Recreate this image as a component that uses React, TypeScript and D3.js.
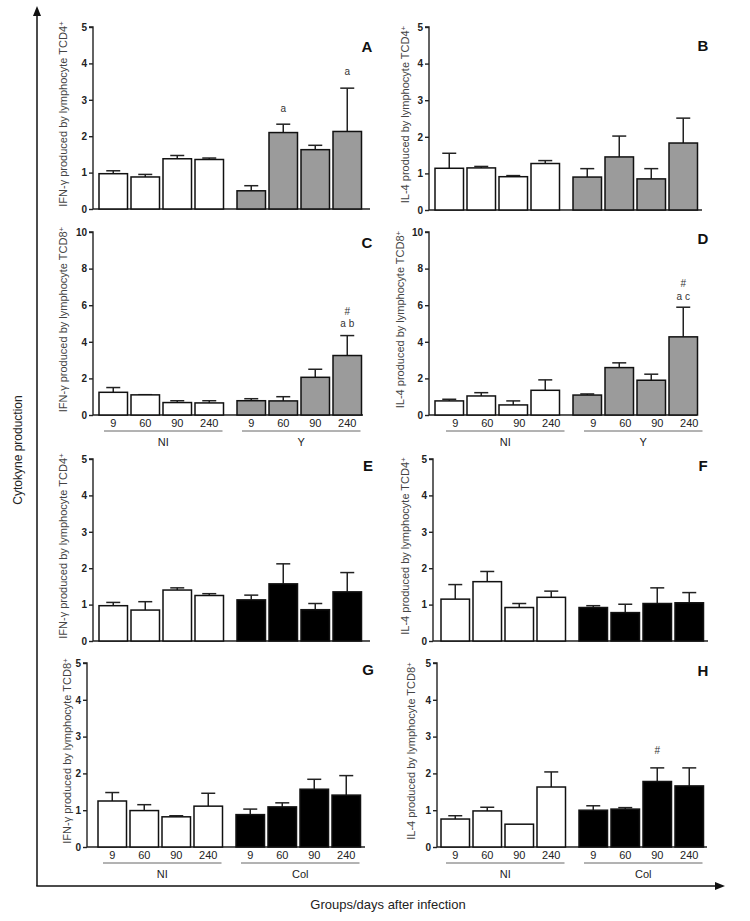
import React, { useEffect, useRef } from "react";
import * as d3 from "d3";

// ---------- data ----------
const days = ["9", "60", "90", "240"];

const aMean = [0.97, 0.88, 1.38, 1.36, 0.5, 2.1, 1.63, 2.13];
const aErr = [1.05, 0.95, 1.47, 1.4, 0.64, 2.33, 1.75, 3.32];
const bMean = [1.14, 1.15, 0.91, 1.27, 0.9, 1.45, 0.85, 1.83];
const bErr = [1.55, 1.19, 0.94, 1.35, 1.13, 2.02, 1.13, 2.51];
const cMean = [1.24, 1.1, 0.68, 0.66, 0.78, 0.77, 2.06, 3.25];
const cErr = [1.5, 1.11, 0.78, 0.78, 0.89, 1.0, 2.5, 4.34];
const dMean = [0.77, 1.04, 0.55, 1.35, 1.09, 2.59, 1.9, 4.27];
const dErr = [0.86, 1.22, 0.77, 1.92, 1.15, 2.85, 2.23, 5.89];
const eMean = [0.97, 0.85, 1.4, 1.25, 1.13, 1.57, 0.86, 1.35];
const eErr = [1.06, 1.08, 1.46, 1.3, 1.26, 2.12, 1.03, 1.88];
const fMean = [1.15, 1.63, 0.92, 1.2, 0.92, 0.78, 1.03, 1.05];
const fErr = [1.55, 1.91, 1.03, 1.37, 0.97, 1.01, 1.46, 1.33];
const gMean = [1.25, 0.99, 0.82, 1.11, 0.88, 1.09, 1.57, 1.41];
const gErr = [1.48, 1.15, 0.85, 1.46, 1.03, 1.2, 1.84, 1.94];
const hMean = [0.76, 0.98, 0.62, 1.63, 1.0, 1.03, 1.78, 1.66];
const hErr = [0.85, 1.08, 0.62, 2.04, 1.12, 1.07, 2.15, 2.15];

const yTicks5 = [0, 1, 2, 3, 4, 5];
const yTicks10 = [0, 2, 4, 6, 8, 10];

const titleIfnCD4 = "IFN-γ produced by lymphocyte TCD4";
const titleIl4CD4 = "IL-4 produced by lymphocyte TCD4";
const titleIfnCD8 = "IFN-γ produced by lymphocyte TCD8";
const titleIl4CD8 = "IL-4 produced by lymphocyte TCD8";

// annotations: [bar index, value level, text]
const aNotes: [number, number, string][] = [[5, 2.76, "a"], [7, 3.77, "a"]];
const cNotes: [number, number, string][] = [[7, 5.66, "#"], [7, 4.98, "a b"]];
const dNotes: [number, number, string][] = [[7, 7.17, "#"], [7, 6.48, "a c"]];
const hNotes: [number, number, string][] = [[6, 2.62, "#"]];

const GRAY = "#9b9b9b";

type Panel = {
  label: string;
  title: string;
  mean: number[];
  err: number[];
  max: number;
  ticks: number[];
  fill2: string;
  group2: string;
  notes: [number, number, string][];
  showDays: boolean;
  // layout
  ax: number; yTop: number; yBot: number; xEnd: number; barStart: number;
  titleX: number; labelX: number; labelY: number; dayShift: number;
};

const panels: Panel[] = [
  { label: "A", title: titleIfnCD4, mean: aMean, err: aErr, max: 5, ticks: yTicks5, fill2: GRAY, group2: "Y", notes: aNotes, showDays: false,
    ax: 93, yTop: 27, yBot: 209, xEnd: 370, barStart: 99, titleX: 63, labelX: 367, labelY: 47, dayShift: 0 },
  { label: "B", title: titleIl4CD4, mean: bMean, err: bErr, max: 5, ticks: yTicks5, fill2: GRAY, group2: "Y", notes: [], showDays: false,
    ax: 429, yTop: 27, yBot: 210, xEnd: 702, barStart: 435, titleX: 405, labelX: 703, labelY: 46, dayShift: 0 },
  { label: "C", title: titleIfnCD8, mean: cMean, err: cErr, max: 10, ticks: yTicks10, fill2: GRAY, group2: "Y", notes: cNotes, showDays: true,
    ax: 93, yTop: 232, yBot: 415, xEnd: 363, barStart: 99, titleX: 63, labelX: 367, labelY: 243, dayShift: 0 },
  { label: "D", title: titleIl4CD8, mean: dMean, err: dErr, max: 10, ticks: yTicks10, fill2: GRAY, group2: "Y", notes: dNotes, showDays: true,
    ax: 429, yTop: 232, yBot: 415, xEnd: 697, barStart: 435, titleX: 400, labelX: 703, labelY: 239, dayShift: 6 },
  { label: "E", title: titleIfnCD4, mean: eMean, err: eErr, max: 5, ticks: yTicks5, fill2: "#000", group2: "Col", notes: [], showDays: false,
    ax: 93, yTop: 459, yBot: 641, xEnd: 370, barStart: 99, titleX: 63, labelX: 368, labelY: 466, dayShift: 0 },
  { label: "F", title: titleIl4CD4, mean: fMean, err: fErr, max: 5, ticks: yTicks5, fill2: "#000", group2: "Col", notes: [], showDays: false,
    ax: 433, yTop: 459, yBot: 641, xEnd: 708, barStart: 441, titleX: 405, labelX: 703, labelY: 466, dayShift: 0 },
  { label: "G", title: titleIfnCD8, mean: gMean, err: gErr, max: 5, ticks: yTicks5, fill2: "#000", group2: "Col", notes: [], showDays: true,
    ax: 87, yTop: 663, yBot: 847, xEnd: 365, barStart: 98, titleX: 67, labelX: 368, labelY: 670, dayShift: 0 },
  { label: "H", title: titleIl4CD8, mean: hMean, err: hErr, max: 5, ticks: yTicks5, fill2: "#000", group2: "Col", notes: hNotes, showDays: true,
    ax: 437, yTop: 663, yBot: 847, xEnd: 707, barStart: 441, titleX: 411, labelX: 703, labelY: 671, dayShift: 0 },
];

const FONT = "Liberation Sans, Arial, Helvetica, sans-serif";
const BAR_W = 28.5;
const STEP = 32;
const GROUP_GAP = 10;

function drawPanel(g: d3.Selection<SVGGElement, unknown, null, undefined>, p: Panel) {
  const y = d3.scaleLinear().domain([0, p.max]).range([p.yBot, p.yTop]);
  const xIdx = d3.scaleLinear().domain([0, 1]).range([p.barStart, p.barStart + STEP]);
  const xLeft = (i: number) => xIdx(i) + (i >= 4 ? GROUP_GAP : 0);

  // y axis
  const yAxis = d3.axisLeft(y).tickValues(p.ticks).tickSize(4).tickPadding(2).tickFormat(d3.format("d"));
  const ga = g.append("g").attr("transform", `translate(${p.ax},0)`).call(yAxis);
  ga.select(".domain").attr("stroke", "#222").attr("stroke-width", 1.4).attr("d", `M-4,${p.yTop}H0V${p.yBot}`);
  ga.selectAll(".tick line").attr("stroke", "#222").attr("stroke-width", 1.4);
  ga.selectAll(".tick text").attr("font-family", FONT).attr("font-size", 10).attr("font-weight", "bold").attr("fill", "#222");

  // x axis line
  g.append("line").attr("x1", p.ax).attr("x2", p.xEnd).attr("y1", p.yBot).attr("y2", p.yBot)
    .attr("stroke", "#222").attr("stroke-width", 1.4);

  // bars
  p.mean.forEach((m, i) => {
    const x0 = xLeft(i);
    const cx = x0 + BAR_W / 2;
    const e = p.err[i];
    if (e > m) {
      g.append("line").attr("x1", cx).attr("x2", cx).attr("y1", y(m)).attr("y2", y(e)).attr("stroke", "#222").attr("stroke-width", 1.5);
      g.append("line").attr("x1", cx - 7).attr("x2", cx + 7).attr("y1", y(e)).attr("y2", y(e)).attr("stroke", "#222").attr("stroke-width", 1.5);
    }
    g.append("rect").attr("x", x0).attr("y", y(m)).attr("width", BAR_W).attr("height", y(0) - y(m))
      .attr("fill", i < 4 ? "#fff" : p.fill2).attr("stroke", "#111").attr("stroke-width", 1.5);
  });

  // annotations
  p.notes.forEach(([i, v, t]) => {
    g.append("text").attr("x", xLeft(i) + BAR_W / 2).attr("y", y(v)).attr("dy", "0.35em")
      .attr("text-anchor", "middle").attr("font-family", FONT).attr("font-size", 10).attr("fill", "#333").text(t);
  });

  // y title
  const t = g.append("text").attr("transform", `translate(${p.titleX},${(p.yTop + p.yBot) / 2 - 4}) rotate(-90)`)
    .attr("text-anchor", "middle").attr("dy", "0.35em").attr("font-family", FONT).attr("font-size", 11).attr("fill", "#444");
  t.append("tspan").text(p.title);
  t.append("tspan").attr("dy", "-0.4em").attr("font-size", 8).text("+");

  // panel label
  g.append("text").attr("x", p.labelX).attr("y", p.labelY).attr("dy", "0.35em").attr("text-anchor", "middle")
    .attr("font-family", FONT).attr("font-size", 15).attr("font-weight", "bold").attr("fill", "#111").text(p.label);

  // day labels and group lines
  if (p.showDays) {
    const groups = [["NI", 0], [p.group2, 4]] as [string, number][];
    groups.forEach(([name, s]) => {
      days.forEach((d, j) => {
        g.append("text").attr("x", xLeft(s + j) + BAR_W / 2 + p.dayShift).attr("y", p.yBot + 8).attr("dy", "0.35em")
          .attr("text-anchor", "middle").attr("font-family", FONT).attr("font-size", 11).attr("fill", "#222").text(d);
      });
      const l0 = xLeft(s) + 5 + p.dayShift;
      const l1 = xLeft(s + 3) + BAR_W - 1 + p.dayShift;
      g.append("line").attr("x1", l0).attr("x2", l1).attr("y1", p.yBot + 16).attr("y2", p.yBot + 16)
        .attr("stroke", "#666").attr("stroke-width", 1);
      g.append("text").attr("x", (l0 + l1) / 2).attr("y", p.yBot + 27).attr("dy", "0.35em")
        .attr("text-anchor", "middle").attr("font-family", FONT).attr("font-size", 11).attr("fill", "#222").text(name);
    });
  }
}

export default function App() {
  const ref = useRef<SVGSVGElement>(null);
  useEffect(() => {
    const svg = d3.select(ref.current);
    svg.selectAll("*").remove();
    svg.append("rect").attr("width", 750).attr("height", 921).attr("fill", "#fff");

    // outer arrows
    svg.append("line").attr("x1", 37).attr("x2", 37).attr("y1", 14).attr("y2", 886).attr("stroke", "#111").attr("stroke-width", 1.5);
    svg.append("path").attr("d", "M37,6 L33,16 L41,16 Z").attr("fill", "#111");
    svg.append("line").attr("x1", 36.25).attr("x2", 716).attr("y1", 886).attr("y2", 886).attr("stroke", "#111").attr("stroke-width", 1.5);
    svg.append("path").attr("d", "M725,886 L715,882 L715,890 Z").attr("fill", "#111");

    svg.append("text").attr("transform", "translate(18,450) rotate(-90)").attr("text-anchor", "middle").attr("dy", "0.35em")
      .attr("font-family", FONT).attr("font-size", 12).attr("fill", "#222").text("Cytokyne production");
    svg.append("text").attr("x", 388).attr("y", 904).attr("text-anchor", "middle").attr("dy", "0.35em")
      .attr("font-family", FONT).attr("font-size", 13).attr("fill", "#222").text("Groups/days after infection");

    panels.forEach((p) => {
      const g = svg.append("g");
      drawPanel(g as any, p);
    });
  }, []);
  return (
    <svg ref={ref} width={750} height={921} style={{ position: "absolute", left: 0, top: 0 }} />
  );
}
